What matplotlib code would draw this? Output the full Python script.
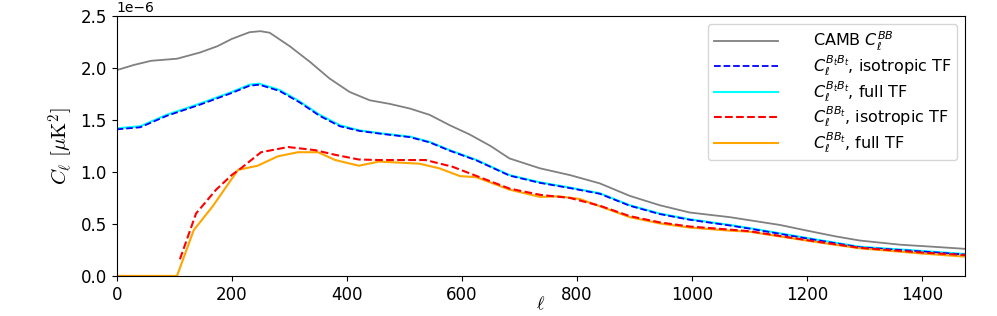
import numpy as np
import matplotlib
matplotlib.use("Agg")
import matplotlib.pyplot as plt

# CAMB BB spectrum (units of 1e-6 uK^2)
ell_camb = [0, 30, 60, 105, 145, 175, 200, 231, 250, 266, 301, 336, 370, 405,
            440, 475, 510, 544, 579, 614, 650, 683, 736, 788, 840, 892, 944,
            996, 1066, 1153, 1205, 1250, 1292, 1362, 1420, 1475]
cl_camb = [1.98, 2.03, 2.07, 2.09, 2.15, 2.21, 2.28, 2.345, 2.355, 2.34, 2.21,
           2.06, 1.90, 1.77, 1.69, 1.655, 1.61, 1.55, 1.45, 1.36, 1.25, 1.13,
           1.035, 0.97, 0.89, 0.77, 0.68, 0.61, 0.565, 0.49, 0.43, 0.38, 0.34,
           0.30, 0.28, 0.26]

# BtBt spectra
ell_tt = [0, 41, 87, 146, 200, 231, 248, 283, 318, 353, 388, 422, 463, 510,
          544, 579, 626, 683, 736, 788, 840, 892, 944, 996, 1066, 1100, 1205,
          1292, 1400, 1475]
cl_tt_full = [1.42, 1.44, 1.55, 1.66, 1.77, 1.84, 1.85, 1.79, 1.68, 1.55, 1.45,
              1.40, 1.37, 1.34, 1.29, 1.21, 1.115, 0.97, 0.90, 0.85, 0.795,
              0.68, 0.60, 0.545, 0.49, 0.46, 0.36, 0.28, 0.24, 0.21]
cl_tt_iso = [1.41, 1.43, 1.54, 1.65, 1.76, 1.83, 1.84, 1.78, 1.67, 1.54, 1.44,
             1.395, 1.365, 1.335, 1.285, 1.205, 1.11, 0.965, 0.895, 0.845,
             0.79, 0.675, 0.595, 0.54, 0.485, 0.455, 0.355, 0.275, 0.235,
             0.205]

# BBt spectra
ell_bt_iso = [110, 138, 173, 200, 216, 251, 298, 345, 380, 421, 456, 537, 584,
              631, 683, 736, 788, 840, 892, 944, 996, 1066, 1100, 1205, 1292,
              1400, 1475]
cl_bt_iso = [0.16, 0.60, 0.83, 0.97, 1.035, 1.19, 1.24, 1.21, 1.165, 1.12,
             1.115, 1.115, 1.05, 0.95, 0.84, 0.78, 0.75, 0.675, 0.575, 0.515,
             0.475, 0.445, 0.43, 0.34, 0.27, 0.225, 0.20]

ell_bt_full = [0, 105, 134, 167, 211, 245, 280, 315, 350, 380, 421, 456, 526,
               561, 597, 625, 683, 736, 770, 805, 840, 892, 944, 996, 1066,
               1100, 1205, 1292, 1400, 1475]
cl_bt_full = [0, 0, 0.44, 0.67, 1.02, 1.06, 1.15, 1.19, 1.19, 1.115, 1.06,
              1.10, 1.08, 1.035, 0.96, 0.95, 0.83, 0.76, 0.765, 0.74, 0.67,
              0.565, 0.505, 0.465, 0.435, 0.425, 0.335, 0.265, 0.215, 0.185]

fig = plt.figure(figsize=(9.97, 3.16), dpi=100)
ax = fig.add_axes([0.117, 0.127, 0.851, 0.822])

scale = 1e-6
h_camb, = ax.plot(ell_camb, np.array(cl_camb) * scale, color="gray", lw=1.3,
                  label=r"CAMB $C_\ell^{BB}$")
h_ttf, = ax.plot(ell_tt, np.array(cl_tt_full) * scale, color="cyan", lw=1.5,
                 label=r"$C_\ell^{B_tB_t}$, full TF")
h_tti, = ax.plot(ell_tt, np.array(cl_tt_iso) * scale, color="b", ls="--",
                 lw=1.3, label=r"$C_\ell^{B_tB_t}$, isotropic TF")
h_btf, = ax.plot(ell_bt_full, np.array(cl_bt_full) * scale, color="orange",
                 lw=1.5, label=r"$C_\ell^{BB_t}$, full TF")
h_bti, = ax.plot(ell_bt_iso, np.array(cl_bt_iso) * scale, color="r", ls="--",
                 lw=1.5, label=r"$C_\ell^{BB_t}$, isotropic TF")

ax.set_xlim(0, 1475)
ax.set_ylim(0, 2.5e-6)
ax.set_xticks([0, 200, 400, 600, 800, 1000, 1200, 1400])
ax.tick_params(labelsize=12)
ax.yaxis.get_offset_text().set_fontsize(10)
ax.set_xlabel(r"$\ell$", fontsize=13, labelpad=-6, math_fontfamily="cm")
ax.set_ylabel(r"$C_\ell\ [\mu{\rm K}^2]$", fontsize=15, math_fontfamily="cm")

ax.legend(handles=[h_camb, h_tti, h_ttf, h_bti, h_btf], loc="upper right",
          fontsize=11.5, handlelength=4.0, handletextpad=2.2, labelspacing=0.05,
          borderaxespad=0.5, borderpad=0.35)

fig.savefig("out.png", dpi=100)
